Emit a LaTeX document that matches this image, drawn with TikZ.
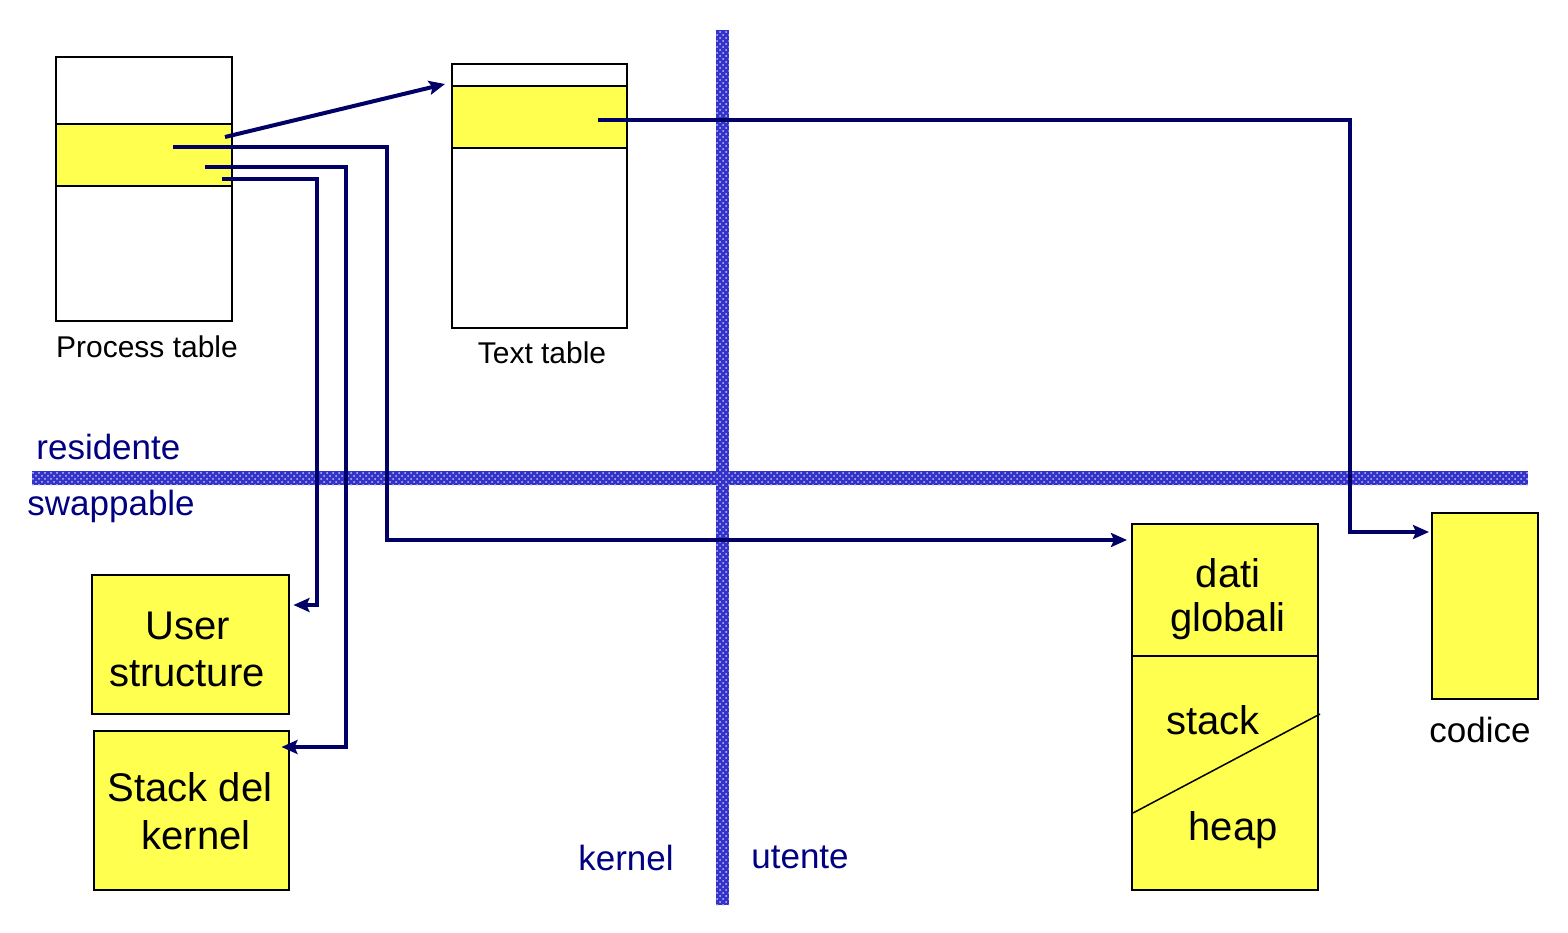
\documentclass[tikz,border=0pt]{standalone}
\usepackage{fontspec}
\setmainfont{Liberation Sans}
\usetikzlibrary{positioning, arrows.meta, patterns, calc}
\definecolor{NavyLink}{RGB}{0,0,102}
\definecolor{BarBlue}{RGB}{51,51,204}
\definecolor{MemYellow}{RGB}{255,255,80}
\definecolor{LabelNavy}{RGB}{0,0,128}

\tikzset{
  box/.style={draw, line width=0.75pt, inner sep=0pt, anchor=north west},
  membox/.style={box, fill=MemYellow},
  link/.style={NavyLink, line width=2pt, -{Stealth[length=8pt,width=7pt,inset=1.5pt]}},
  zone/.style={font=\fontsize{17.5}{20}\selectfont, text=LabelNavy, inner sep=0pt},
  tbltxt/.style={font=\fontsize{15}{18}\selectfont, inner sep=0pt},
  bigtxt/.style={font=\fontsize{20}{24}\selectfont, inner sep=0pt},
  bar/.style={fill=BarBlue, postaction={pattern=crosshatch dots, pattern color=white!70!BarBlue}},
}

\begin{document}
\begin{tikzpicture}[x=0.5pt, y=-0.5pt]
    \useasboundingbox (0,0) rectangle (1568,932);

    % Barre residente/swappable e kernel/utente
    \path[bar] (716,30) rectangle (729,905);
    \path[bar] (32,471) rectangle (1528,485);

    % Process table
    \node[box, minimum width=88pt, minimum height=132pt] (proc) at (55,56) {};
    \node[membox, minimum width=88pt, minimum height=31pt] (procrow) at (55,123) {};
    \node[tbltxt] (proclbl) at (147,347) {Process table};

    % Text table
    \node[box, minimum width=87.5pt, minimum height=132pt] (text) at (451,63) {};
    \node[membox, minimum width=87.5pt, minimum height=31pt] (textrow) at (451,85) {};
    \node[tbltxt] (textlbl) at (542,353) {Text table};

    % Zone
    \node[zone, anchor=west] (res) at (36,447) {residente};
    \node[zone, anchor=west] (swap) at (27,506) {swappable};
    \node[zone] (kern) at (626,858) {kernel};
    \node[zone] (user) at (800,857) {utente};

    % Strutture del kernel
    \node[membox, minimum width=98.5pt, minimum height=69.5pt] (ustruct) at (91,574) {};
    \node[bigtxt] (ustructa) at (188,626) {User};
    \node[bigtxt] (ustructb) at (187,674) {structure};
    \node[membox, minimum width=97.5pt, minimum height=79.5pt] (kstack) at (93,730) {};
    \node[bigtxt] (kstacka) at (190,787) {Stack del};
    \node[bigtxt] (kstackb) at (196,835) {kernel};

    % Dati, stack e heap
    \node[membox, minimum width=93pt, minimum height=183pt] (data) at (1131,523) {};
    \draw[line width=0.75pt] (1131,656) -- (1317,656);
    \draw[line width=0.75pt] (1133,813) -- (1320,714);
    \node[bigtxt] (dataa) at (1228,573) {dati};
    \node[bigtxt] (datab) at (1228,621) {globali};
    \node[bigtxt] (stk) at (1213,720) {stack};
    \node[bigtxt] (hp) at (1233,830) {heap};

    % Codice
    \node[membox, minimum width=53pt, minimum height=93pt] (code) at (1431,512) {};
    \node[bigtxt, font=\fontsize{17.5}{20}\selectfont] (codelbl) at (1480,730) {codice};

    % Puntatori
    \coordinate (p1) at (225,137);
    \coordinate (p2) at (173,147);
    \coordinate (p3) at (205,167);
    \coordinate (p4) at (222,179);
    \coordinate (t1) at (598,120);
    \draw[link] (p1) -- (445,84);
    \draw[link] (p2) -- (387,147) -- (387,540) -- ($(data.north west)+(-2pt,-8.5pt)$);
    \draw[link] (p3) -- (346,167) -- (346,747) -- ($(kstack.north east)+(-4pt,-8.5pt)$);
    \draw[link] (p4) -- (317,179) -- (317,605) -- ($(ustruct.north east)+(2pt,-15.5pt)$);
    \draw[link] (t1) -- (1350,120) -- (1350,532) -- ($(code.north west)+(-1pt,-10pt)$);
\end{tikzpicture}
\end{document}
